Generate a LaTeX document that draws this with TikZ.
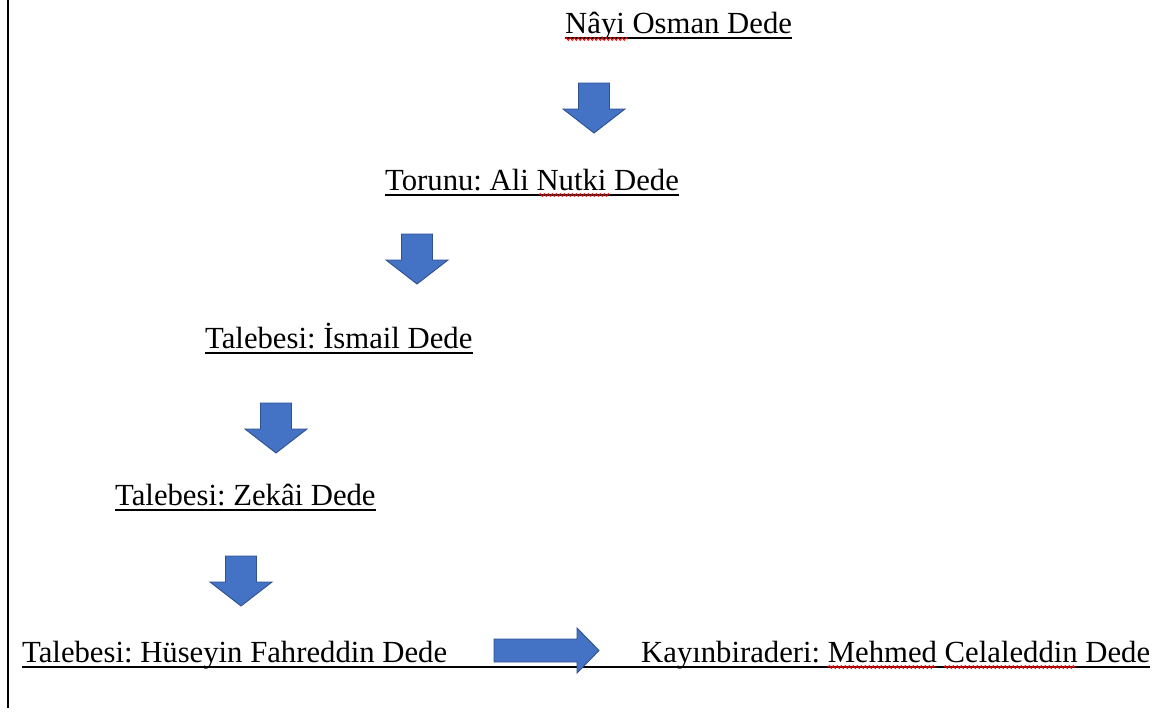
\documentclass[tikz,border=0pt]{standalone}
\usepackage{fontspec}
\setmainfont{Liberation Serif}
\usepackage{tikz}
\usetikzlibrary{decorations.pathmorphing}
\frenchspacing

\definecolor{arrowblue}{HTML}{4472C4}
\definecolor{arrowedge}{HTML}{2F528F}

\tikzset{
    dedename/.style={anchor=base west, inner sep=0pt, font=\fontsize{30.7}{36}\selectfont},
    uline/.style={line width=1.2pt},
    spell/.style={red, line width=0.9pt, decorate, decoration={snake, amplitude=1.4pt, segment length=4pt}},
    blockarrow/.style={fill=arrowblue, draw=arrowedge, line width=0.9pt, line join=miter}
}

\begin{document}
\begin{tikzpicture}[x=1pt, y=-1pt]
    \useasboundingbox (0,0) rectangle (1162,716);

    % Kenar çizgisi
    \draw[line width=1.2pt] (8,0) -- (8,708);

    % İsimler
    \node[dedename] (nayi)    at (565,33)  {Nâyi Osman Dede};
    \node[dedename] (nutki)   at (385,190) {Torunu: Ali Nutki Dede};
    \node[dedename] (ismail)  at (205,348) {Talebesi: İsmail Dede};
    \node[dedename] (zekai)   at (115,505) {Talebesi: Zekâi Dede};
    \node[dedename] (huseyin) at (22,662)  {Talebesi: Hüseyin Fahreddin Dede};
    \node[dedename] (celal)   at (641,662) {Kayınbiraderi: Mehmed Celaleddin Dede};

    % Altı çizili
    \foreach \n in {nayi, nutki, ismail, zekai}
        \draw[uline] ([yshift=-5pt]\n.base west) -- ([yshift=-5pt]\n.base east);
    \draw[uline] ([yshift=-5pt]huseyin.base west) -- ([yshift=-5pt]celal.base east);

    % Yazım denetimi çizgileri
    \draw[spell] (565,39) -- (628,39);
    \draw[spell] (539,195) -- (610,195);
    \draw[spell] (828,667) -- (936,667);
    \draw[spell] (944,667) -- (1076,667);

    % Aşağı oklar
    \foreach \cx/\yt in {594/83, 417/234, 276/403, 241/556}
        \draw[blockarrow] (\cx-15.5,\yt) -- (\cx+15.5,\yt) -- (\cx+15.5,\yt+26)
            -- (\cx+31,\yt+26) -- (\cx,\yt+50) -- (\cx-31,\yt+26)
            -- (\cx-15.5,\yt+26) -- cycle;

    % Sağa ok
    \draw[blockarrow] (494,639) -- (577,639) -- (577,628) -- (599,650.5)
        -- (577,673) -- (577,662) -- (494,662) -- cycle;
\end{tikzpicture}
\end{document}
